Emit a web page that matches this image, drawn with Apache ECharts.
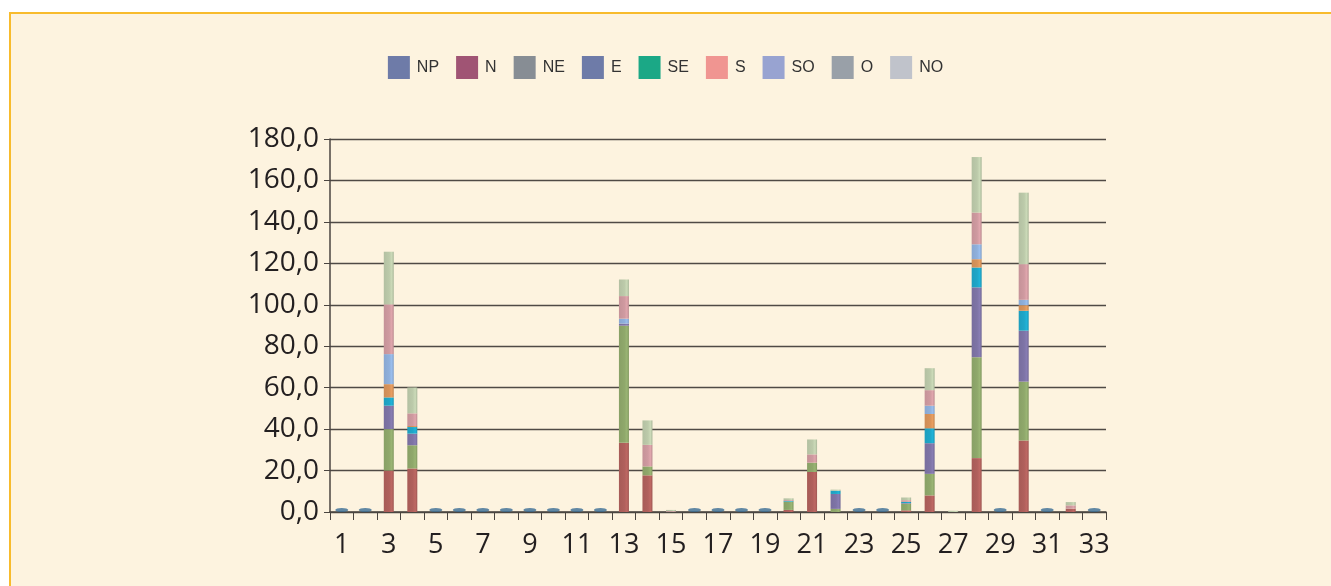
<!DOCTYPE html>
<html>
<head>
<meta charset="utf-8">
<script src="https://cdn.jsdelivr.net/npm/echarts@6/dist/echarts.min.js"></script>
<style>
  html, body { margin: 0; padding: 0; background: #ffffff; }
  #wrap { position: relative; width: 1331px; height: 586px; overflow: hidden; background: #ffffff; }
  #panel { position: absolute; left: 9px; top: 12px; width: 1340px; height: 600px;
           background: #fdf3df; border-top: 2px solid #f8bb2c; border-left: 2px solid #f8bb2c; }
  #chart { position: absolute; left: 0; top: 0; width: 1331px; height: 586px; }
</style>
</head>
<body>
<div id="wrap"><div id="panel"></div><div id="chart"></div></div>
<script>
// ---- data ----
const categories = ['1','2','3','4','5','6','7','8','9','10','11','12','13','14','15','16','17','18','19','20','21','22','23','24','25','26','27','28','29','30','31','32','33'];
const seriesNames = ['NP','N','NE','E','SE','S','SO','O','NO'];
//                 1  2  3     4     5  6  7  8  9  10 11 12 13    14    15   16 17 18 19 20   21    22   23 24 25   26    27   28    29 30    31 32   33
const valNP = [0, 0, 0,    0,    0, 0, 0, 0, 0, 0, 0, 0, 0,    0,    0,   0, 0, 0, 0, 0,   0,    0,   0, 0, 0,   0,    0,   0,    0, 0,    0, 0,   0];
const valN  = [0, 0, 20,   21,   0, 0, 0, 0, 0, 0, 0, 0, 33.4, 17.7, 0,   0, 0, 0, 0, 1,   19.3, 0,   0, 0, 0.8, 8,    0,   26,   0, 34.5, 0, 1.6, 0];
const valNE = [0, 0, 20,   11.2, 0, 0, 0, 0, 0, 0, 0, 0, 56.5, 4.3,  0,   0, 0, 0, 0, 4,   4.5,  1.5, 0, 0, 3.2, 10.4, 0,   48.7, 0, 28.4, 0, 0,   0];
const valE  = [0, 0, 11.3, 5.6,  0, 0, 0, 0, 0, 0, 0, 0, 1,    0,    0,   0, 0, 0, 0, 0,   0,    7.2, 0, 0, 0.3, 14.8, 0,   33.7, 0, 24.6, 0, 0,   0];
const valSE = [0, 0, 4,    3.2,  0, 0, 0, 0, 0, 0, 0, 0, 0,    0,    0,   0, 0, 0, 0, 0.4, 0,    1.6, 0, 0, 0.6, 7.2,  0,   9.6,  0, 9.6,  0, 0,   0];
const valS  = [0, 0, 6.4,  0.5,  0, 0, 0, 0, 0, 0, 0, 0, 0,    0,    0,   0, 0, 0, 0, 0,   0,    0,   0, 0, 0,   6.9,  0,   4,    0, 2.7,  0, 0,   0];
const valSO = [0, 0, 14.5, 0,    0, 0, 0, 0, 0, 0, 0, 0, 2.4,  0,    0,   0, 0, 0, 0, 0,   0,    0,   0, 0, 0,   4,    0,   7.2,  0, 2.6,  0, 0,   0];
const valO  = [0, 0, 24,   6.1,  0, 0, 0, 0, 0, 0, 0, 0, 10.9, 10.4, 0.4, 0, 0, 0, 0, 0.4, 4,    0,   0, 0, 0.8, 7.5,  0,   15.3, 0, 17.2, 0, 1.6, 0];
const valNO = [0, 0, 25.4, 12.5, 0, 0, 0, 0, 0, 0, 0, 0, 8,    11.8, 0.6, 0, 0, 0, 0, 0.8, 7.2,  0.5, 0, 0, 1.3, 10.6, 0.6, 26.8, 0, 34.5, 0, 1.6, 0];
const yTicks = ['0,0','20,0','40,0','60,0','80,0','100,0','120,0','140,0','160,0','180,0'];

// ---- styles ----
const barColors = ['#6e7ba8','#b0605c','#8fa86b','#7e74a6','#1ea6c8','#d8935a','#8fb0dc','#cf9aa0','#bccaaa'];
const legendColors = ['#6e7ba8','#a05474','#878d94','#6e7ba8','#1ba886','#f09591','#98a3d1','#99a0a8','#c0c3cb'];
const allVals = [valNP, valN, valNE, valE, valSE, valS, valSO, valO, valNO];

function shade(hex, f) {
  const n = parseInt(hex.slice(1), 16);
  let r = (n >> 16) & 255, g = (n >> 8) & 255, b = n & 255;
  r = Math.min(255, Math.round(r * f)); g = Math.min(255, Math.round(g * f)); b = Math.min(255, Math.round(b * f));
  return 'rgb(' + r + ',' + g + ',' + b + ')';
}
function cyl(hex) {
  return new echarts.graphic.LinearGradient(0, 0, 1, 0, [
    { offset: 0, color: shade(hex, 0.95) },
    { offset: 0.55, color: hex },
    { offset: 0.8, color: shade(hex, 1.08) },
    { offset: 1, color: shade(hex, 0.9) }
  ]);
}

const totals = categories.map((c, i) => allVals.reduce((s, a) => s + a[i], 0));
const zeroMarks = totals.map(t => t === 0 ? 0 : '-');

const series = seriesNames.map((name, k) => ({
  name: name,
  type: 'bar',
  stack: 'total',
  barWidth: 10,
  data: allVals[k],
  itemStyle: { color: cyl(barColors[k]) },
  emphasis: { disabled: true }
}));
series.push({
  name: 'zero',
  type: 'scatter',
  data: zeroMarks,
  symbol: 'path://M0,5 A10,5 0 1,1 20,5 A10,5 0 1,1 0,5 Z',
  symbolSize: [13, 4],
  symbolOffset: [0, -2],
  itemStyle: { color: '#386c94' },
  z: 1,
  silent: true
});

const chart = echarts.init(document.getElementById('chart'), null, { renderer: 'canvas' });
chart.setOption({
  animation: false,
  backgroundColor: 'transparent',
  legend: {
    data: seriesNames.map((n, k) => ({ name: n, itemStyle: { color: legendColors[k] } })),
    top: 51,
    left: 'center',
    itemWidth: 22,
    itemHeight: 23,
    itemGap: 17,
    icon: 'rect',
    textStyle: { fontFamily: 'Liberation Sans', fontSize: 16, color: '#333', padding: [0, 0, 0, 2] }
  },
  grid: { left: 330, right: 225, top: 139, bottom: 74, containLabel: false },
  xAxis: {
    type: 'category',
    data: categories,
    boundaryGap: true,
    axisLine: { lineStyle: { color: '#4a4540', width: 1.5 } },
    axisTick: { show: true, alignWithLabel: false, interval: 0, length: 8, inside: false, lineStyle: { color: '#4a4540' } },
    axisLabel: { interval: 1, margin: 20, fontFamily: 'Open Sans', fontSize: 27, color: '#231f20' }
  },
  yAxis: {
    type: 'value',
    min: 0, max: 180, interval: 20,
    axisLine: { show: true, lineStyle: { color: '#4a4540', width: 1.5 } },
    axisTick: { show: true, length: 6, lineStyle: { color: '#4a4540' } },
    axisLabel: {
      margin: 11, fontFamily: 'Open Sans', fontSize: 28, color: '#231f20',
      formatter: v => yTicks[Math.round(v / 20)]
    },
    splitLine: { show: true, lineStyle: { color: '#4f4a45', width: 1.4 } }
  },
  series: series
});
</script>
</body>
</html>
